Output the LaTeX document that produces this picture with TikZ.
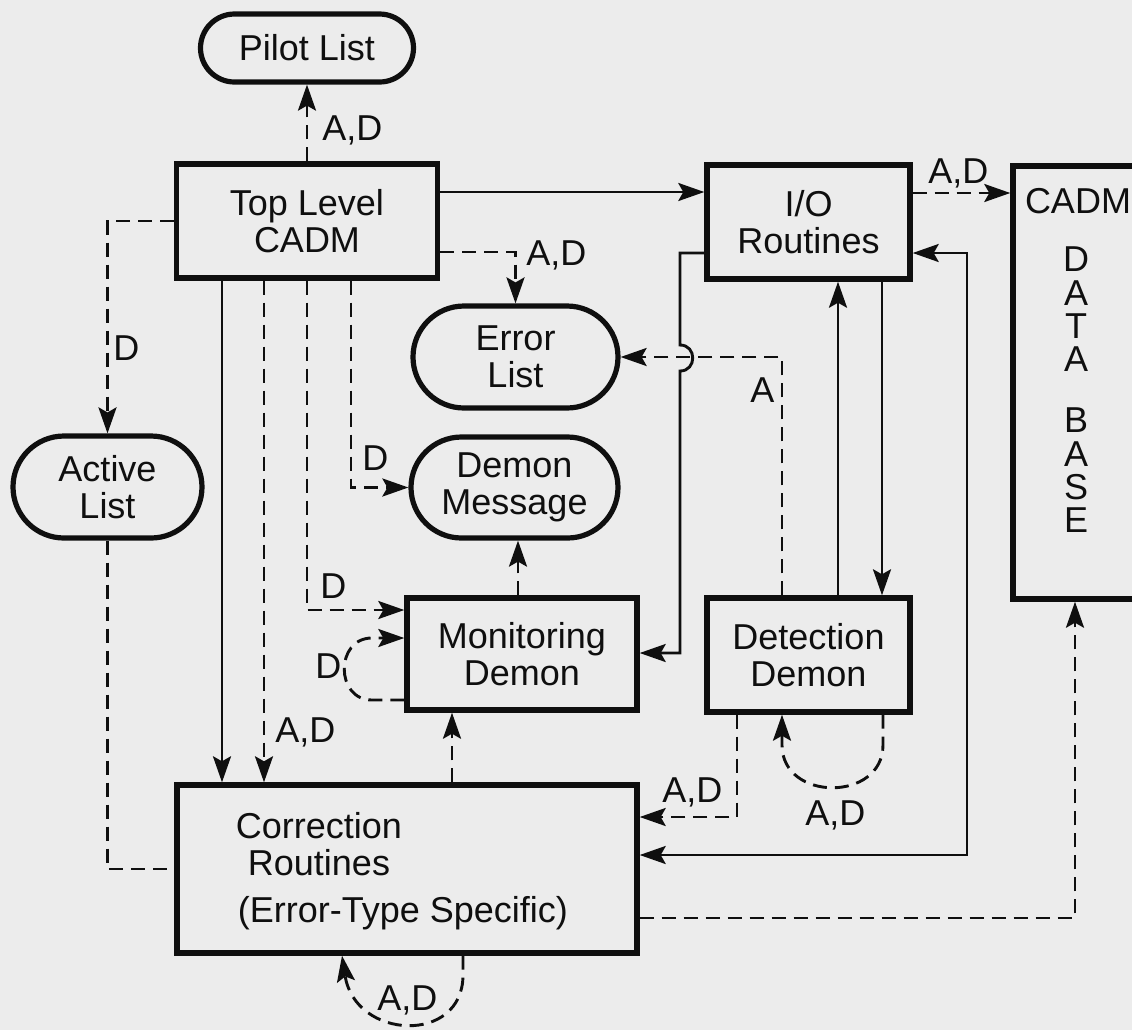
\documentclass[tikz,border=0pt]{standalone}
\usepackage{fontspec}
\setmainfont{Liberation Sans}
\usetikzlibrary{arrows.meta,shapes.misc}
\definecolor{paper}{RGB}{236,236,236}
\definecolor{ink}{RGB}{15,15,15}
\begin{document}
\begin{tikzpicture}[x=0.5pt,y=-0.5pt,
  every node/.style={text=ink},
  txt/.style={font=\fontsize{18}{18.5}\selectfont},
  box/.style={draw=ink, line width=2.7pt, rectangle, align=center, txt, inner sep=0pt},
  pill/.style={draw=ink, line width=2.6pt, rounded rectangle, align=center, txt, inner sep=0pt},
  conn/.style={draw=ink, line width=1.45pt, >={Stealth[length=13pt,width=9pt,inset=2.5pt]}},
  dconn/.style={conn, dash pattern=on 7pt off 4pt},
  lbl/.style={txt, anchor=base west, inner sep=0pt}
]
\useasboundingbox (0,0) rectangle (1132,1030);
\fill[paper] (0,0) rectangle (1132,1030);
\clip (0,0) rectangle (1132,1030);

% nodes
\node[pill, minimum width=106.5pt, minimum height=34pt] (pilot) at (307,48) {Pilot List};
\node[box, minimum width=130.5pt, minimum height=57pt] (tl) at (307,221) {Top Level\\CADM};
\node[box, minimum width=101.5pt, minimum height=57pt] (io) at (808.5,222) {I/O\\Routines};
\node[box, minimum width=73.5pt, minimum height=216.5pt] (db) at (1086.5,382.5) {};
\node[txt, anchor=base, inner sep=0pt] (dbt) at (1078,213) {CADM};
\node[align=center, font=\fontsize{18}{16.67}\selectfont, inner sep=0pt] (dbl) at (1076,390) {D\\A\\T\\A\\[13.9pt]B\\A\\S\\E};
\node[pill, minimum width=102.5pt, minimum height=51pt] (el) at (515.5,357) {Error\\List};
\node[pill, minimum width=103.5pt, minimum height=50.5pt] (dm) at (514.5,487.5) {Demon\\Message};
\node[pill, minimum width=94.5pt, minimum height=51pt] (al) at (107.5,487) {Active\\List};
\node[box, minimum width=115pt, minimum height=56pt] (mon) at (522,654) {Monitoring\\Demon};
\node[box, minimum width=101.5pt, minimum height=57pt] (det) at (808.5,655) {Detection\\Demon};
\node[box, minimum width=230pt, minimum height=84pt] (cr) at (407,869) {};
\node[txt, align=center, inner sep=0pt] (crt) at (319,844) {Correction\\Routines};
\node[txt, anchor=base, inner sep=0pt] (crs) at (403,922) {(Error-Type Specific)};

% connectors from Top Level
\draw[dconn,->] (tl.north) -- (pilot.south);
\node[lbl] (l1) at (322,140) {A,D};
\draw[conn,->] (tl.east |- 0,192) -- (io.west |- 0,192);
\draw[dconn,->] (tl.east |- 0,252) -| (el.north);
\node[lbl] (l2) at (526,265) {A,D};
\draw[dconn,->] (tl.west) -| (al.north);
\node[lbl] (l3) at (113,360) {D};
\draw[conn,->] (tl.south -| 222,0) -- (cr.north -| 222,0);
\draw[dconn,->] (tl.south -| 264,0) -- (cr.north -| 264,0);
\node[lbl] (l4) at (275,742) {A,D};
\draw[dconn,->] (tl.south -| 307,0) |- (mon.west |- 0,610);
\node[lbl] (l5) at (320,598) {D};
\draw[dconn,->] (tl.south -| 351,0) |- (dm.west);
\node[lbl] (l6) at (362,470) {D};

% I/O to data base
\draw[dconn,->] (io.east |- 0,193) -- (db.west |- 0,193);
\node[lbl] (l7) at (928,183) {A,D};

% Active list back to correction
\draw[dconn] (al.south) |- (cr.west);

% Monitoring demon
\draw[dconn,->] (mon.west |- 0,700) -- (372,700) .. controls (335,700) and (335,638) .. (372,638) -- (mon.west |- 0,638);
\node[lbl] (l8) at (315,678) {D};
\draw[dconn,->] (mon.north -| 518,0) -- (dm.south -| 518,0);
\draw[dconn,->] (cr.north -| 452,0) -- (mon.south -| 452,0);

% I/O to monitoring with jump
\draw[conn,->] (io.west |- 0,253) -- (680,253) -- (680,345) .. controls (697,345) and (697,371) .. (680,371) -- (680,653) -- (mon.east |- 0,653);

% Detection demon
\draw[dconn,->] (det.north -| 782,0) |- (el.east);
\node[lbl] (l9) at (750,402) {A};
\draw[conn,->] (det.north -| 838,0) -- (io.south -| 838,0);
\draw[conn,->] (io.south -| 882,0) -- (det.north -| 882,0);
\draw[dconn,->] (det.south -| 737,0) |- (cr.east |- 0,817);
\node[lbl] (l10) at (662,802) {A,D};
\draw[dconn,->] (det.south -| 883,0) -- (883,745) .. controls (883,802) and (782,802) .. (782,745) -- (det.south -| 782,0);
\node[lbl] (l11) at (805,825) {A,D};

% I/O <-> correction
\draw[conn,<->] (io.east |- 0,253) -- (967,253) -- (967,855) -- (cr.east |- 0,855);

% correction to data base
\draw[dconn,->] (cr.east |- 0,918) -| (db.south -| 1075,0);

% correction self loop
\draw[dconn,->] (cr.south -| 463,0) -- (463,975) .. controls (463,1045) and (355,1040) .. (cr.south -| 342,0);
\node[lbl] (l12) at (377,1010) {A,D};
\end{tikzpicture}
\end{document}
